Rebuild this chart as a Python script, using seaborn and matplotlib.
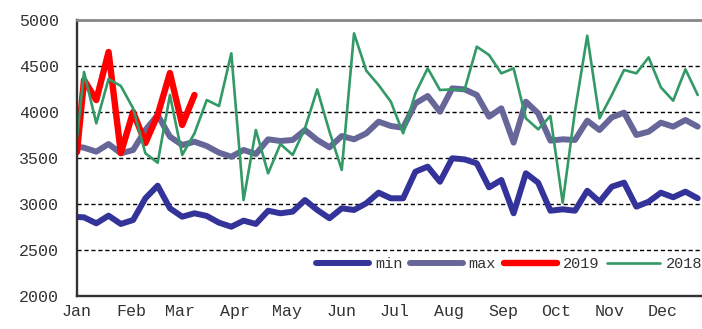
import matplotlib
matplotlib.use("Agg")
import matplotlib.pyplot as plt
import matplotlib.dates as mdates
import pandas as pd
import seaborn as sns

# Weekly observation dates (first reading on Jan 1, then every Saturday)
weeks = pd.DatetimeIndex(["2019-01-01"]).append(
    pd.date_range("2019-01-05", periods=51, freq="7D"))

min_vals = [2859, 2855, 2790, 2873, 2783, 2826, 3062, 3199, 2953, 2862,
            2899, 2870, 2797, 2753, 2819, 2783, 2927, 2899, 2917, 3043,
            2935, 2845, 2953, 2935, 3008, 3123, 3062, 3062, 3351, 3406,
            3242, 3497, 3485, 3442, 3181, 3261, 2899, 3334, 3232, 2927,
            2942, 2927, 3144, 3025, 3188, 3232, 2971, 3025, 3123, 3073,
            3134, 3062]

max_vals = [3623, 3612, 3569, 3652, 3551, 3587, 3804, 3967, 3732, 3641,
            3677, 3630, 3558, 3514, 3587, 3543, 3703, 3685, 3696, 3804,
            3696, 3616, 3739, 3703, 3768, 3895, 3848, 3829, 4094, 4174,
            4003, 4257, 4246, 4185, 3949, 4040, 3667, 4112, 3986, 3689,
            3703, 3696, 3906, 3804, 3942, 3993, 3750, 3786, 3884, 3841,
            3913, 3841]

vals_2019 = [3565, 4348, 4130, 4652, 3554, 4000, 3663, 3967, 4424, 3859,
             4185]

vals_2018 = [3717, 4435, 3877, 4359, 4283, 4040, 3551, 3449, 4185, 3533,
             3768, 4130, 4065, 4638, 3043, 3804, 3333, 3652, 3533, 3822,
             4246, 3786, 3370, 4855, 4449, 4293, 4112, 3768, 4203, 4475,
             4239, 4246, 4239, 4710, 4620, 4420, 4475, 3931, 3812, 3957,
             3014, 4010, 4829, 3931, 4185, 4457, 4420, 4594, 4268, 4123,
             4464, 4185]

series_names = ["min", "max", "2019", "2018"]
series_colors = ["#333399", "#666699", "#FF0000", "#339966"]
series_widths = [4.3, 4.3, 4.6, 1.9]

y_ticks = [2000, 2500, 3000, 3500, 4000, 4500, 5000]
month_starts = pd.date_range("2019-01-01", "2019-12-01", freq="MS")

sns.set_style("white")
plt.rcParams["font.family"] = ["Liberation Mono", "DejaVu Sans"]

fig = plt.figure(figsize=(7.02, 3.29), dpi=100)
ax = fig.add_axes([77 / 702, 33 / 329, 640 / 702, 276 / 329])

series_data = [
    (weeks, min_vals),
    (weeks, max_vals),
    (weeks[:len(vals_2019)], vals_2019),
    (weeks, vals_2018),
]
for (xs, ys), name, col, lw in zip(series_data, series_names,
                                   series_colors, series_widths):
    sns.lineplot(x=xs, y=ys, ax=ax, color=col, linewidth=lw, label=name,
                 legend=False, solid_capstyle="round",
                 solid_joinstyle="round")

ax.set_xlim(pd.Timestamp("2019-01-01"), pd.Timestamp("2020-01-01"))
ax.set_ylim(2000, 5000)
ax.set_yticks(y_ticks)
ax.set_xticks(month_starts)
ax.xaxis.set_major_formatter(mdates.DateFormatter("%b"))
ax.set_xlabel("")
ax.set_ylabel("")

ax.yaxis.grid(True, linestyle=(0, (3, 2)), color="black", linewidth=1.0)
ax.xaxis.grid(False)
ax.set_axisbelow(True)

for side in ["left", "bottom"]:
    ax.spines[side].set_color("#333333")
    ax.spines[side].set_linewidth(1.7)
ax.spines["top"].set_color("#888888")
ax.spines["top"].set_linewidth(2.0)
ax.spines["right"].set_visible(False)

ax.tick_params(axis="x", direction="in", length=5, width=1.2,
               color="#333333", labelsize=12, labelcolor="#333333", pad=6)
ax.tick_params(axis="y", length=0, labelsize=12, labelcolor="#333333",
               pad=13)

handles = ax.get_lines()[:4]
ax.legend(handles, series_names, loc="center left",
          bbox_to_anchor=(316 / 702, (329 - 264) / 329),
          bbox_transform=fig.transFigure, ncol=4, frameon=False,
          fontsize=11, handlelength=3.5, handletextpad=0.35,
          columnspacing=0.5, borderpad=0, borderaxespad=0,
          labelcolor="#333333")

fig.savefig("out.png", dpi=100)
